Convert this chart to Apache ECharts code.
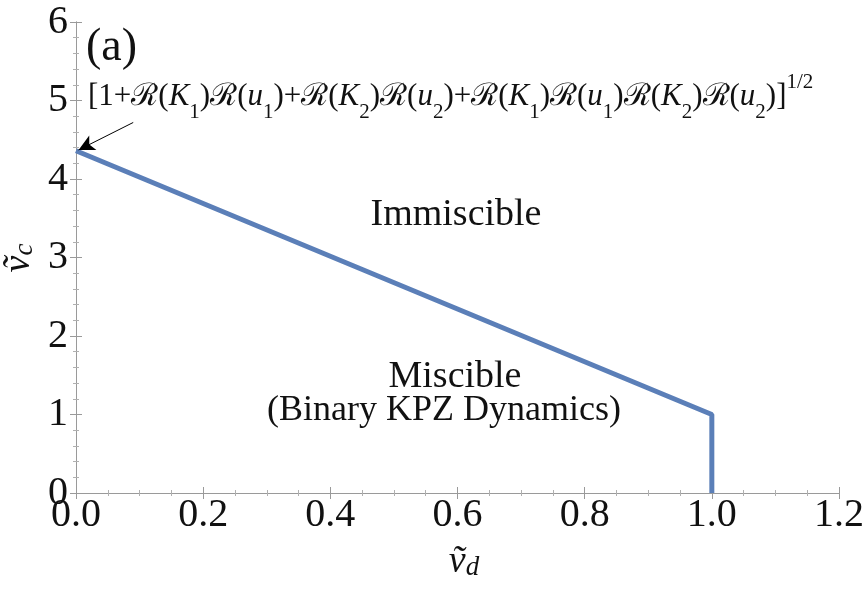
<!DOCTYPE html>
<html><head><meta charset="utf-8">
<script src="https://cdn.jsdelivr.net/npm/echarts@6/dist/echarts.min.js"></script>
<style>html,body{margin:0;padding:0;background:#fff}#c{width:865px;height:590px}</style>
</head><body><div id="c"></div>
<script>
const vd = [0, 1, 1];
const vc = [4.36, 1, 0];
const xTicks = [0, 0.2, 0.4, 0.6, 0.8, 1.0, 1.2];
const yTicks = [0, 1, 2, 3, 4, 5, 6];
const R = '{r|\u211B}';
const annotation = '[1+' + R + '({i|K}{s|1})' + R + '({i|u}{s|1})+' + R + '({i|K}{s|2})' + R + '({i|u}{s|2})+' +
  R + '({i|K}{s|1})' + R + '({i|u}{s|1})' + R + '({i|K}{s|2})' + R + '({i|u}{s|2})]{sup|1/2}';

const serif = '"Liberation Serif", "DejaVu Serif", serif';
const frame = {lineStyle: {color: '#9a9a9a', width: 1}};
const tick = {show: true, inside: true, length: 6, lineStyle: {color: '#9a9a9a'}};
const minor = (n) => ({show: true, splitNumber: n, length: 3, lineStyle: {color: '#b0b0b0'}});
const nameRich = {
  i: {fontFamily: serif, fontStyle: 'italic', fontSize: 38, fill: '#111'},
  s: {fontFamily: serif, fontStyle: 'italic', fontSize: 27, fill: '#111', verticalAlign: 'bottom'}
};

const chart = echarts.init(document.getElementById('c'));
chart.setOption({
  animation: false,
  grid: {left: 76, right: 26, top: 22, bottom: 97, containLabel: false, outerBoundsMode: 'none'},
  xAxis: [
    {type: 'value', min: 0, max: 1.2, interval: 0.2, position: 'bottom',
     axisLine: frame, axisTick: tick, minorTick: minor(4), splitLine: {show: false},
     axisLabel: {fontFamily: serif, fontSize: 40, color: '#111', margin: 2,
       formatter: v => xTicks.includes(+v.toFixed(1)) ? v.toFixed(1) : ''}},
    {type: 'value', min: 0, max: 1.2, interval: 0.2, position: 'top',
     axisLine: frame, axisTick: tick, minorTick: minor(4), splitLine: {show: false}, axisLabel: {show: false}}
  ],
  yAxis: [
    {type: 'value', min: 0, max: 6, interval: 1, position: 'left',
     axisLine: {show: true, ...frame}, axisTick: tick, minorTick: minor(5), splitLine: {show: false},
     axisLabel: {fontFamily: serif, fontSize: 40, color: '#111', margin: 8,
       formatter: v => yTicks.includes(v) ? String(v) : ''}},
    {type: 'value', min: 0, max: 6, interval: 1, position: 'right',
     axisLine: {show: true, ...frame}, axisTick: tick, minorTick: minor(5), splitLine: {show: false}, axisLabel: {show: false}}
  ],
  series: [{
    type: 'line', data: vd.map((x, i) => [x, vc[i]]), symbol: 'none',
    lineStyle: {color: '#5b7fb8', width: 5}, z: 3,
    markLine: {
      silent: true, symbol: ['none', 'arrow'], symbolSize: [12, 16],
      lineStyle: {color: '#000', width: 1, type: 'solid'}, label: {show: false},
      data: [[{coord: [0.09, 4.72]}, {coord: [0.004, 4.37]}]]
    }
  }],
  graphic: [
    {type: 'text', x: 464, y: 562, style: {text: '{i|\u1E7D}{s|d}', align: 'center', verticalAlign: 'middle', rich: nameRich}},
    {type: 'text', x: 19, y: 258, rotation: Math.PI / 2, style: {text: '{i|\u1E7D}{s|c}', align: 'center', verticalAlign: 'middle', rich: nameRich}},
    {type: 'text', x: 86, y: 48, style: {text: '(a)', fontFamily: serif, fontSize: 46, fill: '#111', verticalAlign: 'middle'}},
    {type: 'text', x: 88, y: 97, style: {text: annotation, fontFamily: serif, fontSize: 31, fill: '#111', verticalAlign: 'middle',
      rich: {
        r: {fontFamily: serif, fontSize: 31, fill: '#111'},
        i: {fontFamily: serif, fontStyle: 'italic', fontSize: 31, fill: '#111'},
        s: {fontFamily: serif, fontSize: 21, fill: '#111', verticalAlign: 'bottom', padding: [0,0,-10,0]},
        sup: {fontFamily: serif, fontSize: 21, fill: '#111', verticalAlign: 'top', padding: [-10,0,0,0]}}}},
    {type: 'text', x: 456, y: 215, style: {text: 'Immiscible', fontFamily: serif, fontSize: 38, fill: '#111', align: 'center', verticalAlign: 'middle'}},
    {type: 'text', x: 455, y: 377, style: {text: 'Miscible', fontFamily: serif, fontSize: 38, fill: '#111', align: 'center', verticalAlign: 'middle'}},
    {type: 'text', x: 444, y: 411, style: {text: '(Binary KPZ Dynamics)', fontFamily: serif, fontSize: 36, fill: '#111', align: 'center', verticalAlign: 'middle'}}
  ]
});
</script></body></html>
